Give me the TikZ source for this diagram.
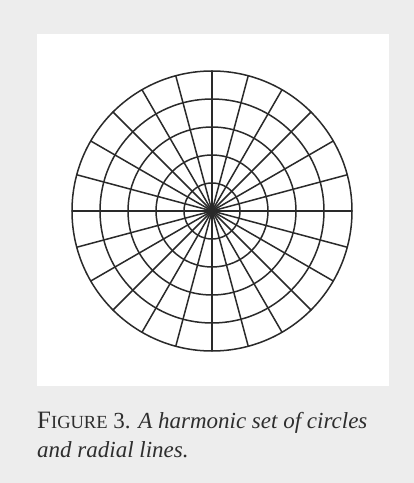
\documentclass[tikz,border=0pt]{standalone}
\usepackage{fontspec}
\setmainfont{Liberation Serif}
\usepackage{xcolor}
\usepackage{tikz}
\usetikzlibrary{positioning}
\definecolor{hcPaper}{HTML}{EDEDED}
\definecolor{hcInk}{HTML}{2A2A2A}
\definecolor{hcText}{HTML}{2E2E2E}
\tikzset{
  hc diagram/.style={x=1pt, y=1pt, line cap=round, line join=round},
  hc line/.style={draw=hcInk, line width=1.5pt},
  hc caption/.style={font=\fontsize{23}{30}\selectfont, text=hcText,
    align=left, inner sep=0pt}
}

\begin{document}
\begin{tikzpicture}[hc diagram]
\fill[hcPaper] (0,0) rectangle (414,483);
\fill[white] (37,97) rectangle (389,449);
\coordinate (hub) at (212,272);
\foreach \r in {28,56,...,140}
  \draw[hc line] (hub) circle (\r pt);
\foreach \a in {0,15,...,345}
  \draw[hc line] (hub) -- ++(\a:140pt);
\node[hc caption, anchor=base west] (caption) at (37,25)
  {{\fontsize{25}{30}\selectfont F}{\fontsize{18.5}{30}\selectfont IGURE} 3.
   \textit{A harmonic set of circles}\\\textit{and radial lines.}};
\end{tikzpicture}
\end{document}
